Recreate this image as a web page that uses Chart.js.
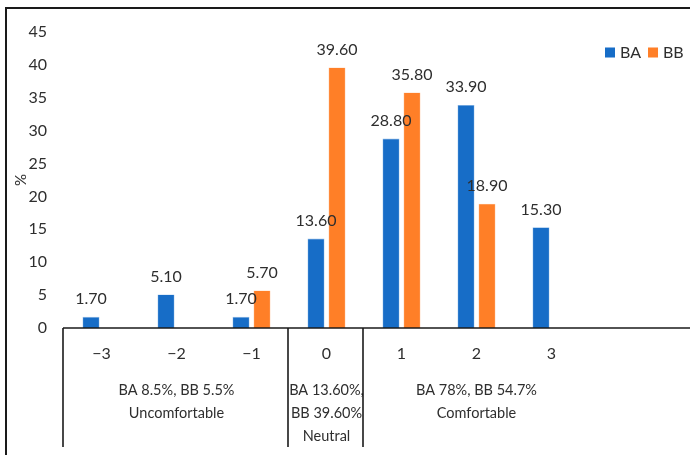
<!DOCTYPE html>
<html>
<head>
<meta charset="utf-8">
<script src="https://cdn.jsdelivr.net/npm/chart.js@4.4.0/dist/chart.umd.min.js"></script>
<style>
    body { margin: 0; background: #fff; }
    #wrap { width: 690px; height: 455px; }
</style>
</head>
<body>
<div id="wrap"><canvas id="graph" width="690" height="455"></canvas></div>
<script>
// datos
const categories = ['\u22123', '\u22122', '\u22121', '0', '1', '2', '3'];
const seriesNames = ['BA', 'BB'];
const baValues = [1.7, 5.1, 1.7, 13.6, 28.8, 33.9, 15.3];
const bbValues = [null, null, 5.7, 39.6, 35.8, 18.9, null];
const yMin = 0;
const yMax = 45;
const yStep = 5;
const groupLabels = [
    ['BA 8.5%, BB 5.5%', 'Uncomfortable'],
    ['BA 13.60%,', 'BB 39.60%', 'Neutral'],
    ['BA 78%, BB 54.7%', 'Comfortable']
];
const groupSpans = [[0, 2], [3, 3], [4, 6]];

const colors = ['#176dc7', '#ff7f27'];
const textColor = '#2e2e2e';
const fontFamily = 'Lato, "Open Sans", sans-serif';

// marco, eje x y etiquetas de grupo
const axisPlugin = {
    id: 'axisPlugin',
    afterDraw: (chart) => {
        const ctx = chart.ctx;
        const x = chart.scales.x;
        const area = chart.chartArea;
        ctx.save();
        ctx.strokeStyle = '#1a1a1a';
        ctx.lineWidth = 2;
        ctx.beginPath();
        ctx.moveTo(6, chart.height);
        ctx.lineTo(6, 8);
        ctx.lineTo(chart.width, 8);
        ctx.stroke();

        ctx.lineWidth = 1.6;
        ctx.beginPath();
        ctx.moveTo(area.left - 1, area.bottom);
        ctx.lineTo(chart.width, area.bottom);
        ctx.stroke();

        const step = x.getPixelForValue(1) - x.getPixelForValue(0);
        const lineBottom = area.bottom + 119;
        ctx.fillStyle = textColor;
        ctx.font = '14.5px ' + fontFamily;
        ctx.textAlign = 'center';
        ctx.textBaseline = 'middle';
        groupSpans.forEach(([a, b], i) => {
            const left = x.getPixelForValue(a) - step / 2;
            const right = x.getPixelForValue(b) + step / 2;
            ctx.beginPath();
            ctx.moveTo(left - 1, area.bottom);
            ctx.lineTo(left - 1, lineBottom);
            ctx.stroke();
            const cx = (left + right) / 2;
            groupLabels[i].forEach((txt, j) => {
                ctx.fillText(txt, cx, area.bottom + 62 + j * 23);
            });
        });
        ctx.restore();
    }
};

// valores sobre las barras
const labelPlugin = {
    id: 'labelPlugin',
    afterDatasetsDraw: (chart) => {
        const ctx = chart.ctx;
        ctx.save();
        ctx.fillStyle = textColor;
        ctx.font = '16px ' + fontFamily;
        ctx.textAlign = 'center';
        ctx.textBaseline = 'middle';
        chart.data.datasets.forEach((ds, d) => {
            const meta = chart.getDatasetMeta(d);
            meta.data.forEach((bar, i) => {
                const v = ds.data[i];
                if (v === null) return;
                ctx.fillText(v.toFixed(2), bar.x, bar.y - 18);
            });
        });
        ctx.restore();
    }
};

// leyenda arriba a la derecha
const legendPlugin = {
    id: 'legendPlugin',
    afterDraw: (chart) => {
        const ctx = chart.ctx;
        ctx.save();
        ctx.font = '16px ' + fontFamily;
        ctx.textBaseline = 'middle';
        ctx.textAlign = 'left';
        let lx = 605;
        const ly = 52.5;
        chart.data.datasets.forEach((ds) => {
            ctx.fillStyle = ds.backgroundColor;
            ctx.fillRect(lx, ly - 5, 10, 10);
            ctx.fillStyle = textColor;
            ctx.fillText(ds.label, lx + 15, ly);
            lx += 15 + ctx.measureText(ds.label).width + 7;
        });
        ctx.restore();
    }
};

const data = {
    labels: categories,
    datasets: [
        {
            label: seriesNames[0],
            data: baValues,
            backgroundColor: colors[0],
            borderColor: '#8fbbe8',
            borderWidth: 0.6
        },
        {
            label: seriesNames[1],
            data: bbValues,
            backgroundColor: colors[1],
            borderColor: '#ffc49a',
            borderWidth: 0.6
        }
    ]
};

const config = {
    type: 'bar',
    data: data,
    options: {
        responsive: false,
        animation: false,
        devicePixelRatio: 1,
        categoryPercentage: 0.56,
        barPercentage: 0.81,
        layout: { padding: { left: 0, right: 101, top: 32, bottom: 0 } },
        plugins: {
            legend: { display: false },
            tooltip: { enabled: false }
        },
        scales: {
            x: {
                grid: { display: false, drawTicks: false },
                border: { display: false },
                ticks: {
                    color: textColor,
                    font: { family: fontFamily, size: 16 },
                    padding: 16,
                    maxRotation: 0
                },
                afterFit: (scale) => { scale.height = 127; }
            },
            y: {
                min: yMin,
                max: yMax,
                grid: { display: false, drawTicks: false },
                border: { display: false },
                ticks: {
                    stepSize: yStep,
                    color: textColor,
                    font: { family: fontFamily, size: 16 },
                    padding: 17
                },
                title: {
                    display: true,
                    text: '%',
                    color: textColor,
                    font: { family: fontFamily, size: 15 },
                    padding: { top: 12, bottom: 0 }
                },
                afterFit: (scale) => { scale.width = 64; }
            }
        }
    },
    plugins: [axisPlugin, labelPlugin, legendPlugin]
};

new Chart(document.querySelector('#graph'), config);
</script>
</body>
</html>
